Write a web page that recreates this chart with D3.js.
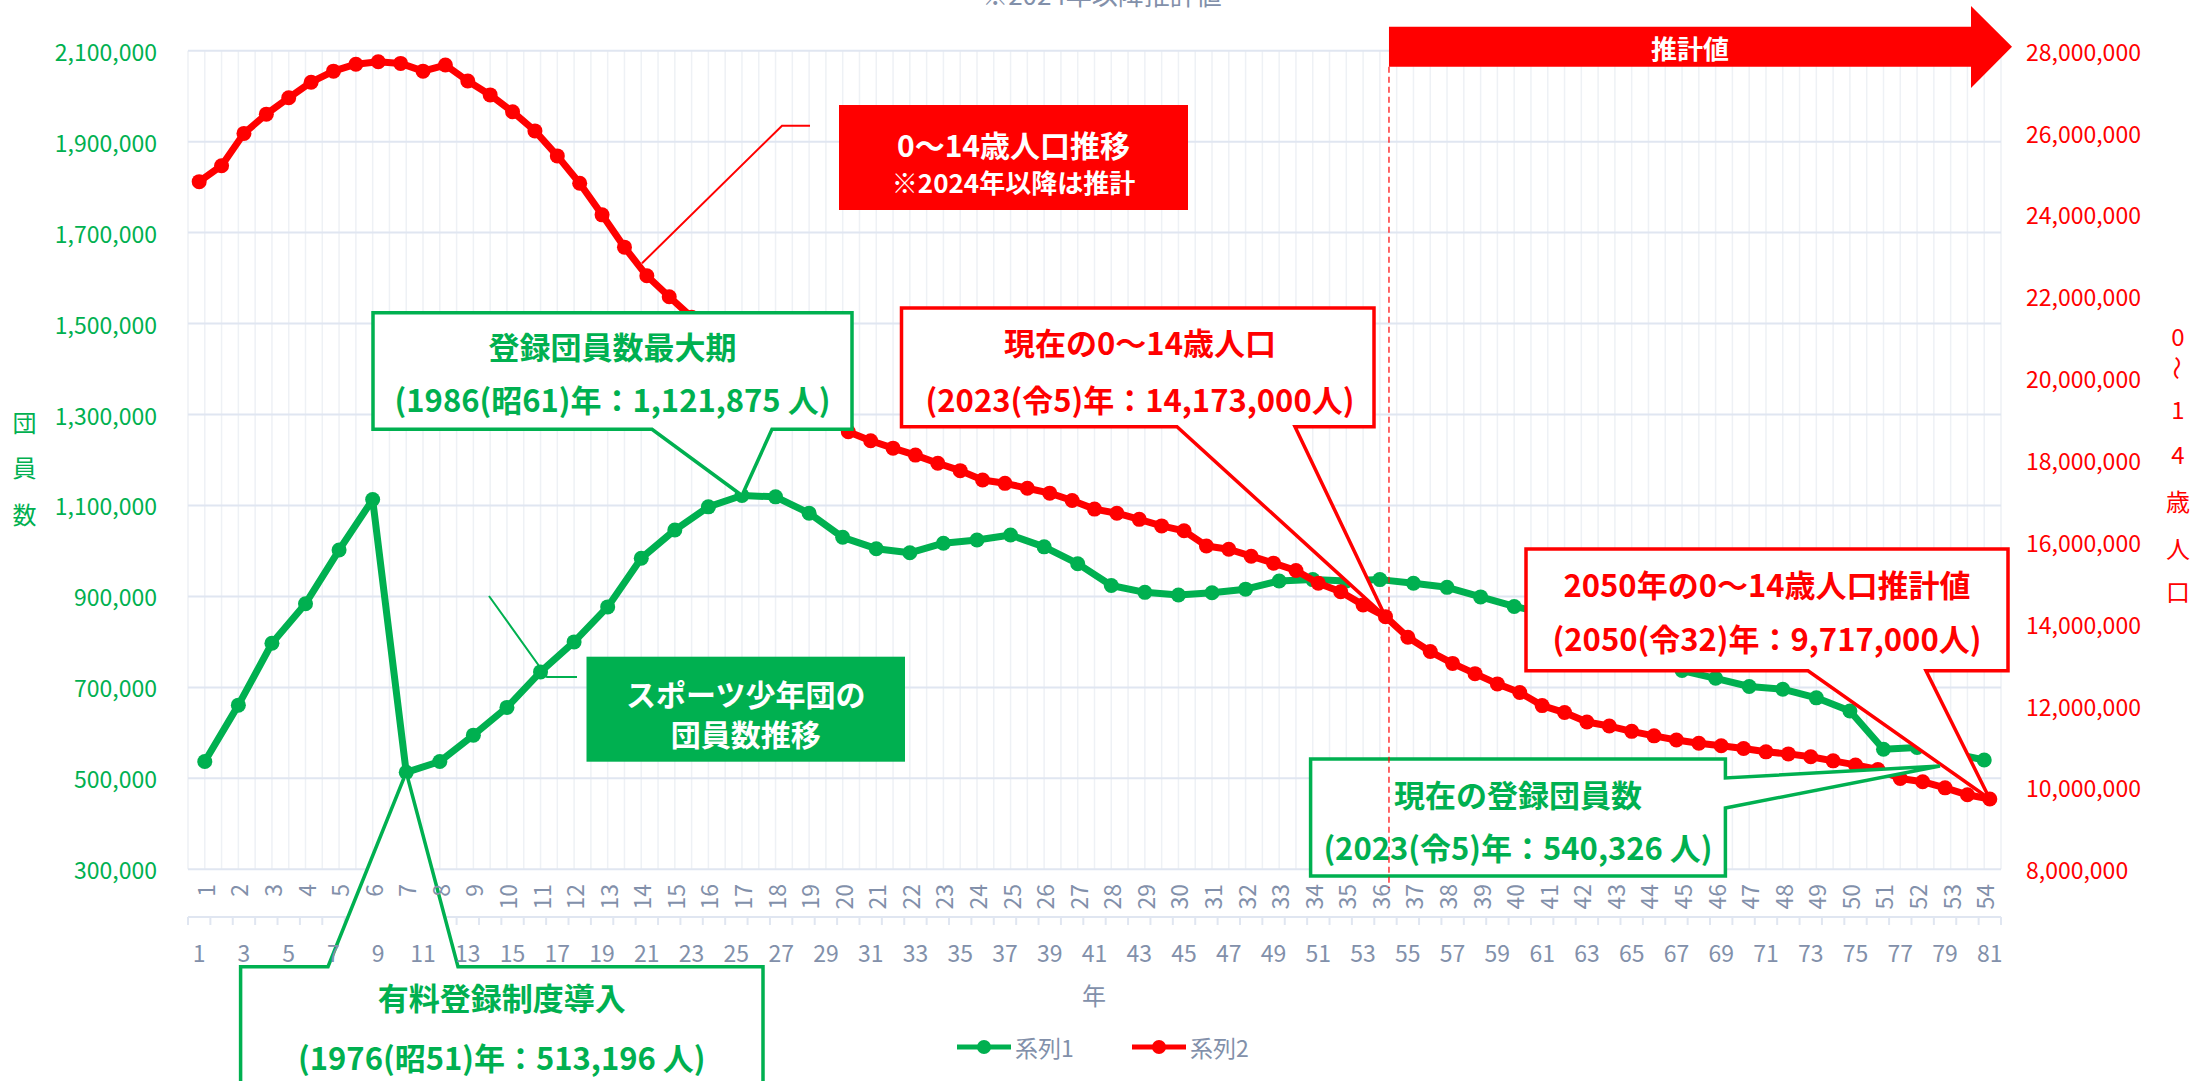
<!DOCTYPE html>
<html><head><meta charset="utf-8">
<script src="https://cdn.jsdelivr.net/npm/d3@7"></script>
<style>
body{margin:0;background:#fff;}
svg{display:block;}
text{font-family:"Noto Sans CJK JP","Noto Sans",sans-serif;}
</style>
</head><body>
<svg id="c" width="2208" height="1081"></svg>
<script>
// ---------------- DATA ----------------
const catsTop = [1,2,3,4,5,6,7,8,9,10,11,12,13,14,15,16,17,18,19,20,21,22,23,24,25,26,27,28,29,30,31,32,33,34,35,36,37,38,39,40,41,42,43,44,45,46,47,48,49,50,51,52,53,54];
const catsBottom = [1,2,3,4,5,6,7,8,9,10,11,12,13,14,15,16,17,18,19,20,21,22,23,24,25,26,27,28,29,30,31,32,33,34,35,36,37,38,39,40,41,42,43,44,45,46,47,48,49,50,51,52,53,54,55,56,57,58,59,60,61,62,63,64,65,66,67,68,69,70,71,72,73,74,75,76,77,78,79,80,81];
// 系列1: スポーツ少年団 団員数 (top category axis, 54 points)
const series1 = [537000,661000,797000,884000,1002000,1113000,513196,537000,595000,656000,
  734000,800000,877000,984000,1046000,1097000,1121875,1119000,1083000,1030000,
  1005000,996000,1017000,1024000,1035000,1009000,972000,924000,909000,903000,
  908000,916000,934000,937000,934000,937000,929000,920000,899000,878000,
  862000,838000,808000,772000,737000,720000,702000,696000,677000,648000,
  564000,568000,556000,540326];
// 系列2: 0〜14歳人口 (bottom category axis, 81 points)
const series2 = [24800000,25190000,25980000,26450000,26850000,27230000,27500000,27670000,27730000,27690000,
  27500000,27650000,27260000,26920000,26510000,26040000,25430000,24760000,23990000,23200000,
  22500000,21990000,21490000,20840000,20410000,20010000,19690000,19370000,19060000,18690000,
  18470000,18290000,18120000,17920000,17740000,17510000,17430000,17310000,17190000,17010000,
  16800000,16700000,16550000,16390000,16270000,15900000,15820000,15650000,15480000,15300000,
  14990000,14780000,14460000,14173000,13670000,13320000,13030000,12780000,12530000,12320000,
  12000000,11830000,11600000,11500000,11370000,11260000,11160000,11080000,11020000,10950000,
  10870000,10820000,10750000,10650000,10550000,10440000,10220000,10140000,9990000,9820000,
  9717000];
const leftTicks = [300000,500000,700000,900000,1100000,1300000,1500000,1700000,1900000,2100000];
const rightTicks = [8000000,10000000,12000000,14000000,16000000,18000000,20000000,22000000,24000000,26000000,28000000];
const bottomLabels = [1,3,5,7,9,11,13,15,17,19,21,23,25,27,29,31,33,35,37,39,41,43,45,47,49,51,53,55,57,59,61,63,65,67,69,71,73,75,77,79,81];
const seriesNames = ["系列1","系列2"];

// ---------------- SETUP ----------------
const GREEN = "#00B050", RED = "#FF0000", GRAY = "#8290AA";
const svg = d3.select("#c");
const L = 188, R = 2001, T = 50.7, B = 869.3;
const xTop = d3.scaleBand().domain(catsTop).range([L, R]);
const xBot = d3.scaleBand().domain(catsBottom).range([L, R]);
const yL = d3.scaleLinear().domain([300000, 2100000]).range([B, T]);
const yR = d3.scaleLinear().domain([8000000, 28000000]).range([B, T]);
const cxTop = c => xTop(c) + xTop.bandwidth() / 2;
const cxBot = c => xBot(c) + xBot.bandwidth() / 2;
const fmt = d3.format(",");

// ---------------- GRID ----------------
const grid = svg.append("g");
const vlines = [];
catsTop.forEach(c => { vlines.push(xTop(c)); vlines.push(cxTop(c)); });
vlines.push(R);
grid.selectAll("line.v").data(vlines).join("line")
  .attr("x1", d => d).attr("x2", d => d).attr("y1", T).attr("y2", B)
  .attr("stroke", "#EEF1F5").attr("stroke-width", 1.5);
grid.selectAll("line.h").data(leftTicks).join("line")
  .attr("x1", L).attr("x2", R).attr("y1", d => yL(d)).attr("y2", d => yL(d))
  .attr("stroke", "#E0E6F1").attr("stroke-width", 2);

// bottom (second) axis line + ticks
const bAxisY = 917;
grid.append("line").attr("x1", L).attr("x2", R).attr("y1", bAxisY).attr("y2", bAxisY)
  .attr("stroke", "#E0E6F1").attr("stroke-width", 2);
const btks = catsBottom.map(c => xBot(c)); btks.push(R);
grid.selectAll("line.bt").data(btks).join("line")
  .attr("x1", d => d).attr("x2", d => d).attr("y1", bAxisY).attr("y2", bAxisY + 8)
  .attr("stroke", "#E0E6F1").attr("stroke-width", 2);

// ---------------- SERIES ----------------
const gS = svg.append("g");
const line1 = d3.line().x((d, i) => cxTop(catsTop[i])).y(d => yL(d));
const line2 = d3.line().x((d, i) => cxBot(catsBottom[i])).y(d => yR(d));
gS.append("path").attr("d", line1(series1)).attr("fill", "none").attr("stroke", GREEN)
  .attr("stroke-width", 7).attr("stroke-linejoin", "round");
gS.selectAll("circle.s1").data(series1).join("circle")
  .attr("cx", (d, i) => cxTop(catsTop[i])).attr("cy", d => yL(d)).attr("r", 7.5).attr("fill", GREEN);
gS.append("path").attr("d", line2(series2)).attr("fill", "none").attr("stroke", RED)
  .attr("stroke-width", 7).attr("stroke-linejoin", "round");
gS.selectAll("circle.s2").data(series2).join("circle")
  .attr("cx", (d, i) => cxBot(catsBottom[i])).attr("cy", d => yR(d)).attr("r", 7.5).attr("fill", RED);

// ---------------- CALLOUTS ----------------
function calloutPath(r, edge, w1, w2, tip) {
  const [x0, y0, x1, y1] = r;
  const p = [];
  p.push([x0, y0]);
  if (edge === "top") { p.push([w1, y0], tip, [w2, y0]); }
  p.push([x1, y0]);
  if (edge === "right") { p.push([x1, w1], tip, [x1, w2]); }
  p.push([x1, y1]);
  if (edge === "bottom") { p.push([w2, y1], tip, [w1, y1]); }
  p.push([x0, y1]);
  return "M" + p.map(q => q.join(",")).join("L") + "Z";
}
const gC = svg.append("g");
const callouts = [
  {rect:[373,312.7,852,429.3], edge:"bottom", w:[652,772], tip:[cxTop(17), yL(series1[16])], color:GREEN,
   lines:["登録団員数最大期","(1986(昭61)年：1,121,875 人)"], ly:[345,398], tx:612.5},
  {rect:[901.5,308,1374,426.7], edge:"bottom", w:[1177,1295], tip:[cxBot(54), yR(series2[53])], color:RED,
   lines:["現在の0〜14歳人口","(2023(令5)年：14,173,000人)"], ly:[341.7,398], tx:1140},
  {rect:[1526,549,2008,670.7], edge:"bottom", w:[1808,1926], tip:[cxBot(81), yR(series2[80])], color:RED,
   lines:["2050年の0〜14歳人口推計値","(2050(令32)年：9,717,000人)"], ly:[583,637], tx:1767},
  {rect:[1310.6,759,1725.4,876], edge:"right", w:[778,808], tip:[1940,766], color:GREEN,
   lines:["現在の登録団員数","(2023(令5)年：540,326 人)"], ly:[793,846.7], tx:1518},
  {rect:[240.6,966.7,763,1095], edge:"top", w:[328,458], tip:[cxTop(7), yL(series1[6])], color:GREEN,
   lines:["有料登録制度導入","(1976(昭51)年：513,196 人)"], ly:[996.7,1056.7], tx:501.8}
];
callouts.forEach(c => {
  gC.append("path").attr("d", calloutPath(c.rect, c.edge, c.w[0], c.w[1], c.tip))
    .attr("fill", "#fff").attr("stroke", c.color).attr("stroke-width", 3.5).attr("stroke-linejoin", "miter");
  c.lines.forEach((t, i) => {
    gC.append("text").attr("x", c.tx).attr("y", c.ly[i]).attr("text-anchor", "middle")
      .attr("dominant-baseline", "central").attr("font-size", 31).attr("font-weight", 700)
      .attr("fill", c.color).text(t);
  });
});

// filled label boxes + leaders
gC.append("rect").attr("x", 839).attr("y", 105).attr("width", 349).attr("height", 105).attr("fill", RED);
gC.append("text").attr("x", 1013.5).attr("y", 144).attr("text-anchor", "middle").attr("dominant-baseline", "central")
  .attr("font-size", 30).attr("font-weight", 700).attr("fill", "#fff").text("0〜14歳人口推移");
gC.append("text").attr("x", 1013.5).attr("y", 181).attr("text-anchor", "middle").attr("dominant-baseline", "central")
  .attr("font-size", 26).attr("font-weight", 700).attr("fill", "#fff").text("※2024年以降は推計");
gC.append("path").attr("d", "M810,125.7L782,125.7L642,263.3").attr("fill", "none").attr("stroke", RED).attr("stroke-width", 2);

gC.append("rect").attr("x", 586.5).attr("y", 656.7).attr("width", 318.5).attr("height", 105).attr("fill", GREEN);
gC.append("text").attr("x", 745.7).attr("y", 693).attr("text-anchor", "middle").attr("dominant-baseline", "central")
  .attr("font-size", 30).attr("font-weight", 700).attr("fill", "#fff").text("スポーツ少年団の");
gC.append("text").attr("x", 745.7).attr("y", 733).attr("text-anchor", "middle").attr("dominant-baseline", "central")
  .attr("font-size", 30).attr("font-weight", 700).attr("fill", "#fff").text("団員数推移");
gC.append("path").attr("d", "M489,596L547,677L577,677").attr("fill", "none").attr("stroke", GREEN).attr("stroke-width", 2);

// ---------------- AXIS LABELS ----------------
const gA = svg.append("g").attr("font-size", 23);
gA.selectAll("text.l").data(leftTicks).join("text")
  .attr("x", 157).attr("y", d => yL(d)).attr("text-anchor", "end").attr("dominant-baseline", "central")
  .attr("fill", GREEN).text(d => fmt(d));
gA.selectAll("text.r").data(rightTicks).join("text")
  .attr("x", 2026).attr("y", d => yR(d)).attr("text-anchor", "start").attr("dominant-baseline", "central")
  .attr("fill", RED).text(d => fmt(d));
gA.selectAll("text.t").data(catsTop).join("text")
  .attr("transform", d => `translate(${cxTop(d)},884) rotate(-90)`)
  .attr("text-anchor", "end").attr("dominant-baseline", "central").attr("fill", GRAY).text(d => d);
gA.selectAll("text.b").data(bottomLabels).join("text")
  .attr("x", d => cxBot(d)).attr("y", 952).attr("text-anchor", "middle").attr("dominant-baseline", "central")
  .attr("fill", GRAY).text(d => d);

// axis titles
svg.append("text").attr("x", 1094).attr("y", 994).attr("text-anchor", "middle").attr("dominant-baseline", "central")
  .attr("font-size", 24).attr("fill", GRAY).text("年");
const leftTitle = ["団","員","数"], leftTitleY = [421.7,466.7,513];
leftTitle.forEach((ch, i) => svg.append("text").attr("x", 24.5).attr("y", leftTitleY[i]).attr("text-anchor", "middle")
  .attr("dominant-baseline", "central").attr("font-size", 24).attr("fill", GREEN).text(ch));
const rightTitle = ["0","〜","1","4","歳","人","口"], rightTitleY = [335,368,408,453,500,547,590];
rightTitle.forEach((ch, i) => svg.append("text")
  .attr("transform", `translate(2178,${rightTitleY[i]})` + (ch === "〜" ? " rotate(90)" : ""))
  .attr("text-anchor", "middle").attr("dominant-baseline", "central").attr("font-size", 24).attr("fill", RED).text(ch));

// top title (partially cut, as in the reference)
svg.append("text").attr("x", 1102).attr("y", 5).attr("text-anchor", "middle").attr("font-size", 26)
  .attr("fill", GRAY).text("※2024年以降推計値");

// ---------------- ESTIMATE MARKER ----------------
const xEst = cxBot(54) + 3.5;
svg.append("line").attr("x1", xEst).attr("x2", xEst).attr("y1", 66.7).attr("y2", 888)
  .attr("stroke", RED).attr("stroke-width", 1.2).attr("stroke-dasharray", "6,4");
svg.append("path")
  .attr("d", `M${xEst},26.7L1971,26.7L1971,6L2012,46.7L1971,88L1971,66.7L${xEst},66.7Z`)
  .attr("fill", RED);
svg.append("text").attr("x", 1690).attr("y", 47).attr("text-anchor", "middle").attr("dominant-baseline", "central")
  .attr("font-size", 26).attr("font-weight", 700).attr("fill", "#fff").text("推計値");

// ---------------- LEGEND ----------------
const legend = [{name: seriesNames[0], color: GREEN, x: 957}, {name: seriesNames[1], color: RED, x: 1132}];
legend.forEach(l => {
  const g = svg.append("g");
  g.append("line").attr("x1", l.x).attr("x2", l.x + 54).attr("y1", 1047).attr("y2", 1047)
    .attr("stroke", l.color).attr("stroke-width", 5);
  g.append("circle").attr("cx", l.x + 27).attr("cy", 1047).attr("r", 7).attr("fill", l.color);
  g.append("text").attr("x", l.x + 58).attr("y", 1047).attr("dominant-baseline", "central")
    .attr("font-size", 23).attr("fill", GRAY).text(l.name);
});
</script>
</body></html>
